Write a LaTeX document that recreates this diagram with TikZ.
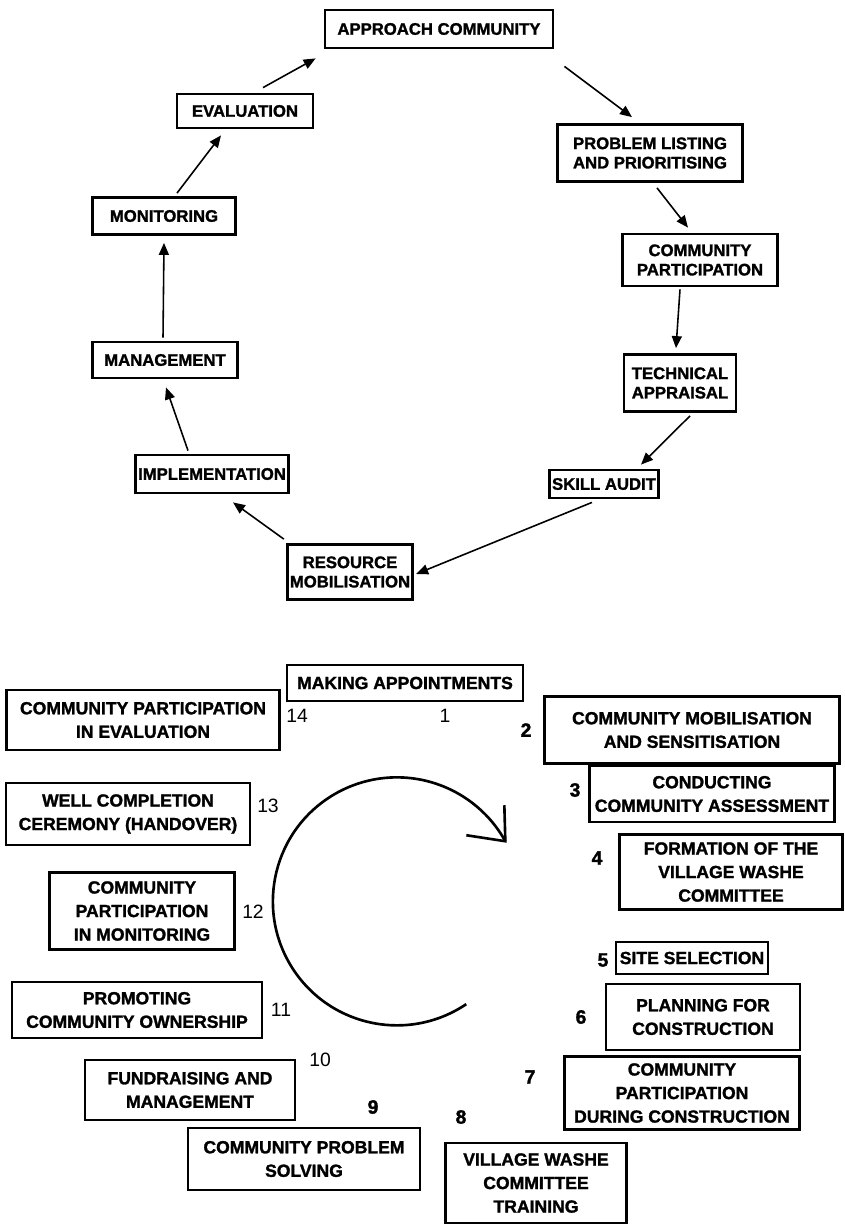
\documentclass[tikz,border=0pt]{standalone}
\usepackage{fontspec}
\setmainfont{Liberation Sans}[BoldFeatures={FakeBold=1.5}]
\usetikzlibrary{arrows.meta,calc}

\begin{document}
\begin{tikzpicture}[x=0.02cm,y=-0.02cm,
  tb/.style={draw,line width=1.6pt,align=center,inner sep=1.5pt,font=\fontsize{9.5}{11}\selectfont\bfseries},
  bb/.style={draw,line width=1.3pt,align=center,inner sep=2pt,font=\fontsize{10}{13.4}\selectfont\bfseries},
  sz/.style 2 args={minimum width=#1*0.2mm,minimum height=#2*0.2mm},
  num/.style={font=\fontsize{11}{11}\selectfont},
  link/.style={line width=0.9pt,-{Triangle[length=2.4mm,width=2mm]}},
  cyc/.style={line width=1.5pt}]
  \path[fill=white] (0,0) rectangle (845,1224);
  \useasboundingbox (0,0) rectangle (845,1224);
  % ---------- upper cycle
  \foreach \n/\x/\y/\w/\h/\t in {
      appr/439/29/228/38/{APPROACH COMMUNITY},
      prob/650/153/185/57/{PROBLEM LISTING\\AND PRIORITISING},
      cpart/700/260/155/52/{COMMUNITY\\PARTICIPATION},
      tech/680/383/112/57/{TECHNICAL\\APPRAISAL},
      skill/604/484/108/28/{SKILL AUDIT},
      res/350/572/110/55/{RESOURCE\\MOBILISATION},
      impl/212/474/145/38/{IMPLEMENTATION},
      mana/165/360/145/36/{MANAGEMENT},
      moni/164/216/143/37/{MONITORING},
      eval/245/111/136/34/{EVALUATION}}
    \node[tb,sz={\w}{\h}] (\n) at (\x,\y) {\t};
  \draw[link] ($(eval.north)+(18,-5)$) -- ($(appr.south west)+(-8,9)$);
  \draw[link] ($(appr.south east)+(10,17)$) -- ($(prob.north)+(-18,-6)$);
  \draw[link] ($(prob.south)+(7,5)$) -- ($(cpart.north)+(-12,-5)$);
  \draw[link] ($(cpart.south)+(-20,2)$) -- ($(tech.north)+(-4,-5)$);
  \draw[link] ($(tech.south)+(10,3)$) -- ($(skill.north)+(37,-4)$);
  \draw[link] ($(skill.south)+(-12,3)$) -- ($(res.east)+(2,2)$);
  \draw[link] ($(res.north west)+(-2,-4)$) -- ($(impl.south)+(21,8)$);
  \draw[link] ($(impl.north)+(-24,-3)$) -- ($(mana.south)+(1,8)$);
  \draw[link] ($(mana.north)+(-2,-3)$) -- ($(moni.south)+(0,7)$);
  \draw[link] ($(moni.north)+(13,-3)$) -- ($(eval.south)+(-24,6)$);
  % ---------- lower cycle
  \foreach \n/\x/\y/\w/\h/\t in {
      mk/405/683/236/36/{MAKING APPOINTMENTS},
      b2/692/730/295/67/{COMMUNITY MOBILISATION\\AND SENSITISATION},
      b3/712/794/245/56/{CONDUCTING\\COMMUNITY ASSESSMENT},
      b4/731/872/223/75/{FORMATION OF THE\\VILLAGE WASHE\\COMMITTEE},
      b5/692/958/135/32/{SITE SELECTION},
      b6/703/1017/194/66/{PLANNING FOR\\CONSTRUCTION},
      b7/682/1093/235/73/{COMMUNITY\\PARTICIPATION\\DURING CONSTRUCTION},
      b8/536/1183/181/80/{VILLAGE WASHE\\COMMITTEE\\TRAINING},
      b9/304/1159/232/62/{COMMUNITY PROBLEM\\SOLVING},
      b10/190/1090/210/60/{FUNDRAISING AND\\MANAGEMENT},
      b11/137/1010/250/56/{PROMOTING\\COMMUNITY OWNERSHIP},
      b12/142/911/185/77/{COMMUNITY\\PARTICIPATION\\IN MONITORING},
      b13/128/814/244/62/{WELL COMPLETION\\CEREMONY (HANDOVER)},
      b14/143/720/273/60/{COMMUNITY PARTICIPATION\\IN EVALUATION}}
    \node[bb,sz={\w}{\h}] (\n) at (\x,\y) {\t};
  \foreach \t/\x/\y in {1/445/716,14/297/716,13/268/806,12/253/912,11/281/1010,10/320/1060}
    \node[num] (n\t) at (\x,\y) {\t};
  \foreach \t/\x/\y in {2/526/730,3/575/790,4/597/858,5/603/960,6/581/1017,7/530/1077,8/461/1117,9/373/1107}
    \node[num,font=\fontsize{11}{11}\selectfont\bfseries] (n\t) at (\x,\y) {\t};
  % big turning arrow with open head
  \coordinate (ctr) at (398,903);
  \draw[cyc] ($(ctr)+(56:122)$) arc[start angle=56,end angle=331,radius=124] coordinate (tip);
  \draw[cyc] ($(tip)+(-1,-36)$) -- (tip) -- ($(tip)+(-39,-6)$);
\end{tikzpicture}
\end{document}
